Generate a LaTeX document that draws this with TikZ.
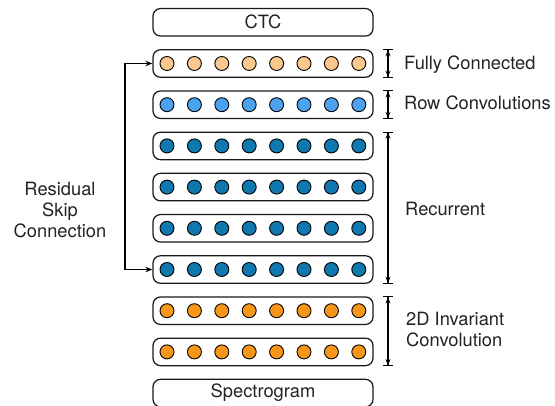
\documentclass[tikz,border=0pt]{standalone}
\usepackage{fontspec}
\setmainfont{TeX Gyre Heros}
\usetikzlibrary{arrows.meta}
\definecolor{peach}{HTML}{FBC78C}
\definecolor{lblue}{HTML}{4BA2EE}
\definecolor{dblue}{HTML}{0F78AE}
\definecolor{orng}{HTML}{F8961A}
\definecolor{txt}{HTML}{222222}
\begin{document}
\begin{tikzpicture}[x=1pt,y=-1pt,
  layerbox/.style={draw=black!90, line width=1.25pt, rounded corners=7.5pt, minimum width=220pt, minimum height=27.5pt, inner sep=0pt, text=txt, font=\fontsize{18.3}{21}\selectfont},
  unit/.style={circle, draw=black, line width=0.9pt, minimum size=14pt, inner sep=0pt},
  lbl/.style={text=txt, font=\fontsize{18.3}{21}\selectfont, inner sep=0pt},
  dimline/.style={line width=1.1pt, {Bar[width=10pt]Stealth[length=6pt,width=5pt]}-{Stealth[length=6pt,width=5pt]Bar[width=10pt]}},
  skipline/.style={line width=1.1pt, {Stealth[length=7pt,width=5.5pt]}-{Stealth[length=7pt,width=5.5pt]}}
]
\useasboundingbox (0,0) rectangle (555,406);
% layers
\node[layerbox] (ctc) at (263,22.3) {CTC};
\node[layerbox] (fc) at (263,63.5) {};
\node[layerbox] (rc) at (263,104.7) {};
\node[layerbox] (r1) at (263,145.9) {};
\node[layerbox] (r2) at (263,187.1) {};
\node[layerbox] (r3) at (263,228.3) {};
\node[layerbox] (r4) at (263,269.5) {};
\node[layerbox] (c1) at (263,310.7) {};
\node[layerbox] (c2) at (263,351.9) {};
\node[layerbox] (spec) at (263,393.1) {Spectrogram};
% units
\foreach \i in {0,...,7} {
  \node[unit, fill=peach] (fc-\i) at (167+27.4*\i,63.5) {};
  \node[unit, fill=lblue] (rc-\i) at (167+27.4*\i,104.7) {};
  \node[unit, fill=dblue] (ra-\i) at (167+27.4*\i,145.9) {};
  \node[unit, fill=dblue] (rb-\i) at (167+27.4*\i,187.1) {};
  \node[unit, fill=dblue] (rcc-\i) at (167+27.4*\i,228.3) {};
  \node[unit, fill=dblue] (rd-\i) at (167+27.4*\i,269.5) {};
  \node[unit, fill=orng] (ca-\i) at (167+27.4*\i,310.7) {};
  \node[unit, fill=orng] (cb-\i) at (167+27.4*\i,351.9) {};
}
% dimension lines
\coordinate (dx) at (388,0);
\draw[dimline] (fc.north -| dx) -- (fc.south -| dx);
\draw[dimline] (rc.north -| dx) -- (rc.south -| dx);
\draw[dimline] (r1.north -| dx) -- (r4.south -| dx);
\draw[dimline] (c1.north -| dx) -- (c2.south -| dx);
\node[lbl, anchor=west] (lfc) at (404,65) {Fully Connected};
\node[lbl, anchor=west] (lrc) at (404,103) {Row Convolutions};
\node[lbl, anchor=west] (lrec) at (405,209) {Recurrent};
\node[lbl, anchor=west, align=left] (lconv) at (406,329) {2D Invariant\\Convolution};
% skip connection
\coordinate (sx) at (125,0);
\draw[skipline] (r4.west) -- (r4.west -| sx) |- (fc.west);
\node[lbl, align=center] (lskip) at (60,210) {Residual\\Skip\\Connection};
\end{tikzpicture}
\end{document}
